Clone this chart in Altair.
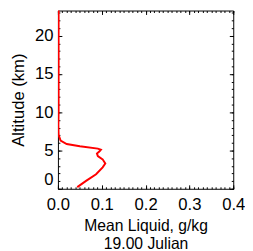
import altair as alt
import pandas as pd

# profile values
liquid = [0.044, 0.065, 0.087, 0.102, 0.108, 0.102, 0.091, 0.089, 0.095, 0.098,
          0.091, 0.050, 0.020, 0.006, 0.0015, 0.001, 0.0015, 0.0015, 0.0015, 0.0015]
altitude = [0.22, 1.06, 1.90, 2.80, 3.30, 3.85, 4.27, 4.60, 4.90, 5.10,
            5.25, 5.55, 5.85, 6.30, 7.05, 8.30, 10.0, 15.0, 20.0, 23.5]

x_major = [0.0, 0.1, 0.2, 0.3, 0.4]
x_minor = [round(i * 0.01, 2) for i in range(41)]
y_major = [0, 5, 10, 15, 20]
y_minor = list(range(0, 24))

W, H = 179, 182
FONT = "Liberation Sans"

df = pd.DataFrame({"liquid": liquid, "alt": altitude})

xs = alt.Scale(domain=[0, 0.4], nice=False, zero=False)
ys = alt.Scale(domain=[0, 23.3], nice=False, zero=False)


def tick_axis(orient, values, size, offset):
    return alt.Axis(orient=orient, values=values, tickSize=size, offset=offset,
                    labels=False, domain=False, grid=False, ticks=True,
                    tickColor="black", tickWidth=1, title=None)


main = alt.Chart(df).mark_line(color="#ff0000", strokeWidth=2, clip=True).encode(
    x=alt.X("liquid:Q", scale=xs,
            axis=alt.Axis(orient="bottom", values=x_major, format=".1f", ticks=False,
                          domain=False, grid=False, labelFontSize=17, labelPadding=8,
                          labelColor="black", labelFlush=False,
                          title=["Mean Liquid, g/kg", "19.00 Julian"], titleFontSize=16,
                          titleFontWeight="normal", titleColor="black", titlePadding=6,
                          titleLineHeight=18)),
    y=alt.Y("alt:Q", scale=ys,
            axis=alt.Axis(orient="left", values=y_major, format="d", ticks=False,
                          domain=False, grid=False, labelFontSize=17, labelPadding=5,
                          labelColor="black", labelFlush=True,
                          title="Altitude (km)", titleFontSize=17,
                          titleFontWeight="normal", titleColor="black", titlePadding=7)),
    order="alt:Q",
)


def tick_layer(xo, yo, xv, yv, size, xoff, yoff):
    return alt.Chart(df).mark_line(strokeOpacity=0).encode(
        x=alt.X("liquid:Q", scale=xs, axis=tick_axis(xo, xv, size, xoff)),
        y=alt.Y("alt:Q", scale=ys, axis=tick_axis(yo, yv, size, yoff)),
        order="alt:Q",
    )


layers = [
    main,
    tick_layer("top", "right", x_major, y_major, 4, -H, -W),
    tick_layer("top", "right", x_minor, y_minor, 2, -H, -W),
    tick_layer("bottom", "left", x_major, y_major, 4, -H, -W),
    tick_layer("bottom", "left", x_minor, y_minor, 2, -H, -W),
]

chart = alt.layer(*layers).resolve_axis(x="independent", y="independent").properties(
    width=W, height=H,
    autosize=alt.AutoSizeParams(type="none"),
    padding={"left": 51, "top": 0, "right": 12, "bottom": 64},
).configure(font=FONT).configure_view(stroke="black", strokeWidth=1)

chart.save("out.html", embed_options={"renderer": "svg", "actions": False})
